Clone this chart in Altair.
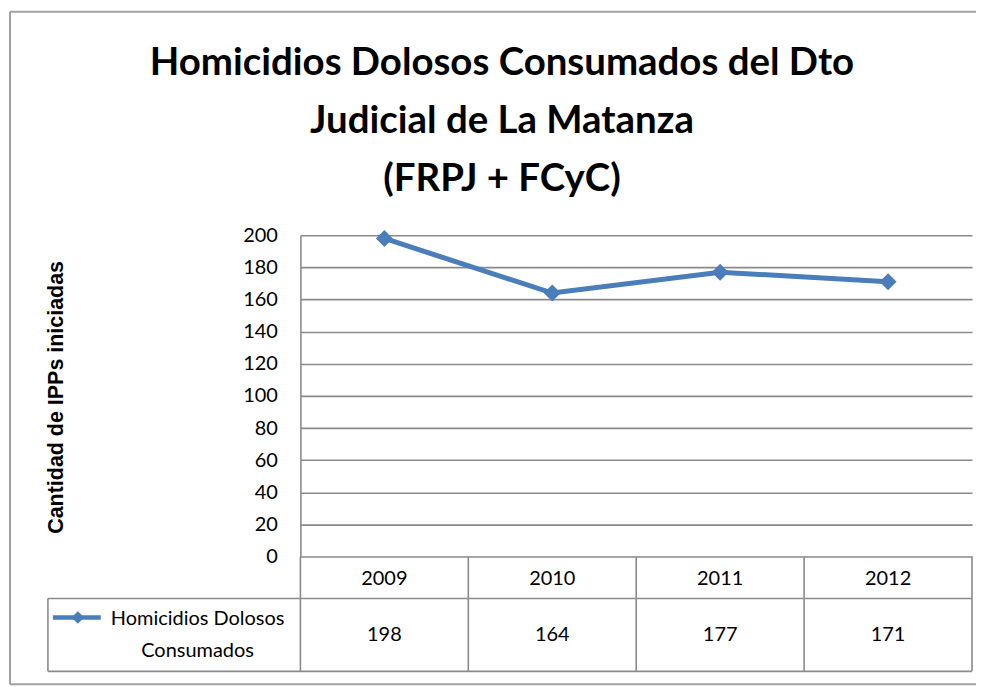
import altair as alt
import pandas as pd

# ---- data ----
years = [2009, 2010, 2011, 2012]
values = [198, 164, 177, 171]
series_name = "Homicidios Dolosos\nConsumados"
y_ticks = [0, 20, 40, 60, 80, 100, 120, 140, 160, 180, 200]
title_lines = ["Homicidios Dolosos Consumados del Dto", "Judicial de La Matanza", "(FRPJ + FCyC)"]
y_title = "Cantidad de IPPs iniciadas"

# ---- layout (pixels relative to the plot area's top-left corner) ----
PLOT_W, PLOT_H = 673, 322
XMIN, XMAX = 2008.5, 2012.5
YMIN, YMAX = 0, 200


def xa(px):
    return XMIN + px * (XMAX - XMIN) / PLOT_W


def ya(px):
    return YMAX - px * (YMAX - YMIN) / PLOT_H


BLUE = "#4A7EBB"
GRID = "#8a8a8a"
FONT = "Lato"

x_scale = alt.Scale(domain=[XMIN, XMAX], nice=False, zero=False)
y_scale = alt.Scale(domain=[YMIN, YMAX], nice=False, zero=False)

y_axis = alt.Axis(
    values=y_ticks,
    title=y_title,
    grid=True,
    gridColor=GRID,
    gridWidth=1.6,
    ticks=False,
    domainColor=GRID,
    domainWidth=1.6,
    labelFont=FONT,
    labelFontSize=20,
    labelColor="#000000",
    labelPadding=23,
    titleFont="Liberation Sans",
    titleFontWeight="bold",
    titleFontSize=21.5,
    titleColor="#000000",
    titleX=-244,
    titleY=162,
    titleBaseline="middle",
)


def X(field):
    return alt.X(field, type="quantitative", scale=x_scale, axis=None)


def Y(field):
    return alt.Y(field, type="quantitative", scale=y_scale, axis=y_axis)


df = pd.DataFrame({"year": years, "value": values})
df["year_label"] = [str(y) for y in years]
df["value_label"] = [str(v) for v in values]
df["hdr_y"] = ya(344)
df["val_y"] = ya(401)

# outer chart border (top, left, bottom; the right side lies outside the picture)
L, R, T, B = xa(-291), xa(677), ya(-224), ya(450)
bh_df = pd.DataFrame({"x": [L, L], "x2": [R, R], "y": [T, B]})
border_h = alt.Chart(bh_df).mark_rule(color="#a0a0a0", strokeWidth=2).encode(x=X("x"), x2="x2", y=Y("y"))
bv_df = pd.DataFrame({"x": [L], "y": [T], "y2": [B]})
border_v = alt.Chart(bv_df).mark_rule(color="#a0a0a0", strokeWidth=2).encode(x=X("x"), y=Y("y"), y2="y2")

# table lines
bounds = [XMIN + i for i in range(len(years) + 1)]
v_df = pd.DataFrame({"x": bounds, "y": [0] * len(bounds), "y2": [ya(437)] * len(bounds)})
v_df = pd.concat([v_df, pd.DataFrame({"x": [xa(-253)], "y": [ya(364)], "y2": [ya(437)]})])
vlines = alt.Chart(v_df).mark_rule(color=GRID, strokeWidth=1.6).encode(x=X("x"), y=Y("y"), y2="y2")
h_df = pd.DataFrame({"x": [xa(-253)] * 2, "x2": [XMAX] * 2, "y": [ya(364), ya(437)]})
hlines = alt.Chart(h_df).mark_rule(color=GRID, strokeWidth=1.6).encode(x=X("x"), x2="x2", y=Y("y"))

# series line and markers
line = alt.Chart(df).mark_line(color=BLUE, strokeWidth=5).encode(x=X("year"), y=Y("value"))
points = alt.Chart(df).mark_point(shape="diamond", filled=True, size=290, color=BLUE, opacity=1).encode(
    x=X("year"), y=Y("value")
)

# table texts
hdr_text = alt.Chart(df).mark_text(font=FONT, fontSize=20, color="#000000").encode(
    x=X("year"), y=Y("hdr_y"), text="year_label:N"
)
val_text = alt.Chart(df).mark_text(font=FONT, fontSize=20, color="#000000").encode(
    x=X("year"), y=Y("val_y"), text="value_label:N"
)

# legend key in the table
key_df = pd.DataFrame({"x": [xa(-248), xa(-200)], "y": [ya(383)] * 2})
key_line = alt.Chart(key_df).mark_line(color=BLUE, strokeWidth=4.5).encode(x=X("x"), y=Y("y"))
key_pt_df = pd.DataFrame({"x": [xa(-223)], "y": [ya(383)]})
key_pt = alt.Chart(key_pt_df).mark_point(shape="diamond", filled=True, size=160, color=BLUE, opacity=1).encode(
    x=X("x"), y=Y("y")
)
key_txt_df = pd.DataFrame({"x": [xa(-103)], "y": [ya(385)], "t": [series_name]})
key_txt = alt.Chart(key_txt_df).mark_text(
    font=FONT, fontSize=20, color="#000000", lineBreak="\n", lineHeight=32, align="center", baseline="middle"
).encode(x=X("x"), y=Y("y"), text="t:N")

chart = (
    alt.layer(border_h, border_v, hlines, vlines, line, points, hdr_text, val_text, key_line, key_pt, key_txt)
    .properties(
        width=PLOT_W,
        height=PLOT_H,
        padding={"left": 0, "top": 2, "right": 0, "bottom": 0},
        title=alt.TitleParams(
            text=title_lines,
            font=FONT,
            fontSize=38.5,
            fontWeight="bold",
            color="#000000",
            lineHeight=58,
            anchor="middle",
            dx=-134.5,
            dy=193,
        ),
    )
    .configure_view(strokeWidth=0)
)

chart.save("out.html", embed_options={"renderer": "svg", "actions": False})
